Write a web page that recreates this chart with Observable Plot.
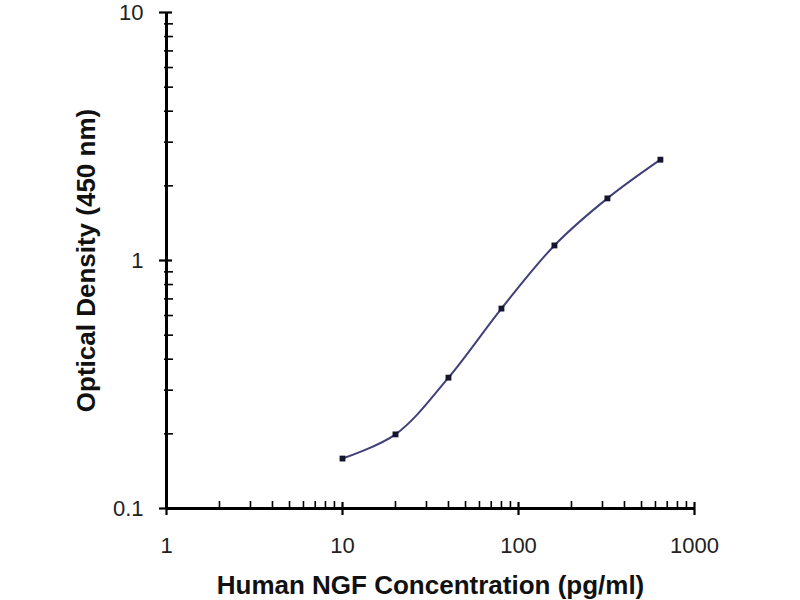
<!DOCTYPE html>
<html>
<head>
<meta charset="utf-8">
<script src="https://cdn.jsdelivr.net/npm/d3@7"></script>
<script src="https://cdn.jsdelivr.net/npm/@observablehq/plot@0.6"></script>
<style>
  html, body { margin: 0; padding: 0; background: #fff; }
  #chart svg { font-family: "Liberation Sans", Arial, sans-serif; }
  g[aria-label="x-axis label"] text, g[aria-label="y-axis label"] text { font-size: 26px; font-weight: bold; fill: #111; }
</style>
</head>
<body>
<div id="chart"></div>
<script>
const concentration = [10, 20, 40, 80, 160, 320, 640];
const density = [0.159, 0.199, 0.337, 0.64, 1.15, 1.78, 2.55];
const xMajor = [1, 10, 100, 1000];
const xMinor = [2,3,4,5,6,7,8,9,20,30,40,50,60,70,80,90,200,300,400,500,600,700,800,900];
const yMajor = [0.1, 1, 10];
const yMinor = [0.2,0.3,0.4,0.5,0.6,0.7,0.8,0.9,2,3,4,5,6,7,8,9];
const xTitle = "Human NGF Concentration (pg/ml)";
const yTitle = "Optical Density (450 nm)";

const data = concentration.map((c, i) => ({c, od: density[i]}));

const chart = Plot.plot({
  width: 800,
  height: 600,
  marginLeft: 166,
  marginRight: 106,
  marginTop: 12,
  marginBottom: 92,
  x: {type: "log", domain: [1, 1000]},
  y: {type: "log", domain: [0.1, 10]},
  marks: [
    // minor ticks inside
    Plot.axisX({ticks: xMinor, tickSize: 8, dy: -7, text: null, label: null, strokeWidth: 1.6, stroke: "#000"}),
    Plot.axisY({ticks: yMinor, tickSize: 9, dx: 7, text: null, label: null, strokeWidth: 1.6, stroke: "#000"}),
    // major ticks crossing the axes
    Plot.axisX({ticks: xMajor, tickSize: 13, dy: -6, text: null, label: null, strokeWidth: 2.2, stroke: "#000"}),
    Plot.axisY({ticks: yMajor, tickSize: 13, dx: 6, text: null, label: null, strokeWidth: 2.2, stroke: "#000"}),
    // axis lines
    Plot.ruleY([0.1], {stroke: "#000", strokeWidth: 3}),
    Plot.ruleX([1], {stroke: "#000", strokeWidth: 3}),
    // tick labels + titles
    Plot.axisX({ticks: xMajor, tickSize: 0, tickPadding: 29, tickFormat: d => String(d), fontSize: 22, fill: "#222",
      label: xTitle, labelAnchor: "center", labelArrow: "none", labelOffset: 85}),
    Plot.axisY({ticks: yMajor, tickSize: 0, tickPadding: 23, tickFormat: d => String(d), fontSize: 22, fill: "#222",
      label: yTitle, labelAnchor: "center", labelArrow: "none", labelOffset: 90}),
    // data
    Plot.line(data, {x: "c", y: "od", curve: "catmull-rom", stroke: "#40407a", strokeWidth: 2}),
    Plot.dot(data, {x: "c", y: "od", symbol: "square", r: 3.3, fill: "#15152e", stroke: "none"})
  ]
});
document.getElementById("chart").appendChild(chart);
</script>
</body>
</html>
